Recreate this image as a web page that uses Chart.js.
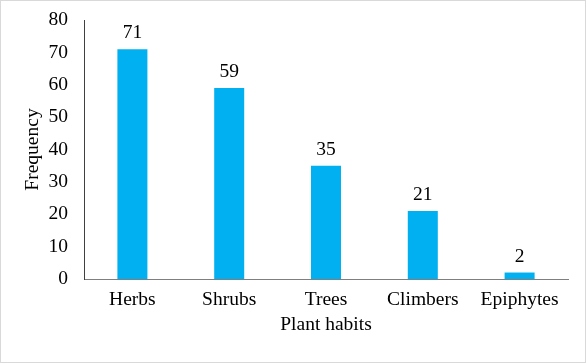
<!DOCTYPE html>
<html><head><meta charset="utf-8">
<script src="https://cdn.jsdelivr.net/npm/chart.js@4/dist/chart.umd.min.js"></script>
<style>html,body{margin:0;padding:0;background:#fff}#wrap{width:587px;height:364px;position:relative}</style>
</head><body><div id="wrap"><canvas id="c" width="587" height="364"></canvas></div>
<script>
const categories = ["Herbs", "Shrubs", "Trees", "Climbers", "Epiphytes"];
const frequency = [71, 59, 35, 21, 2];
const yTicks = [0, 10, 20, 30, 40, 50, 60, 70, 80];

const FONT = "'Liberation Serif', 'Times New Roman', serif";
const FS = 19.5;

const labelPlugin = {
  id: 'vals',
  afterDatasetsDraw(chart) {
    const ctx = chart.ctx;
    const meta = chart.getDatasetMeta(0);
    ctx.save();
    ctx.font = FS + "px " + FONT;
    ctx.fillStyle = "#000";
    ctx.textAlign = "center";
    ctx.textBaseline = "alphabetic";
    meta.data.forEach((bar, i) => {
      ctx.fillText(String(frequency[i]), bar.x, bar.y - 11);
    });
    ctx.restore();
  }
};
const borderPlugin = {
  id: 'frame',
  afterDraw(chart) {
    const ctx = chart.ctx;
    ctx.save();
    ctx.strokeStyle = "#d9d9d9";
    ctx.lineWidth = 1;
    ctx.strokeRect(0.5, 0.5, 585, 362);
    ctx.restore();
  }
};

new Chart(document.getElementById('c'), {
  type: 'bar',
  data: {
    labels: categories,
    datasets: [{
      data: frequency,
      backgroundColor: '#00B0F0',
      barPercentage: 0.62,
      categoryPercentage: 0.5
    }]
  },
  options: {
    responsive: false,
    animation: false,
    devicePixelRatio: 1,
    layout: { padding: { top: 20, right: 19, left: 0, bottom: 0 } },
    plugins: { legend: { display: false }, tooltip: { enabled: false } },
    scales: {
      x: {
        grid: { display: false, drawTicks: false },
        border: { display: true, color: '#7f7f7f', width: 1 },
        ticks: { color: '#000', font: { family: FONT, size: FS }, padding: 9, maxRotation: 0 },
        title: { display: true, text: 'Plant habits', color: '#000', font: { family: FONT, size: FS }, padding: { top: 0, bottom: 27 } },
        afterFit(s) { s.height = 85; s.paddingLeft = 0; s.paddingRight = 0; }
      },
      y: {
        min: 0, max: 80,
        afterBuildTicks(s) { s.ticks = yTicks.map(v => ({ value: v })); },
        grid: { display: false, drawTicks: false },
        border: { display: true, color: '#404040', width: 1 },
        ticks: { color: '#000', font: { family: FONT, size: FS }, padding: 16 },
        title: { display: true, text: 'Frequency', color: '#000', font: { family: FONT, size: FS }, padding: { top: 21, bottom: 0 } },
        afterFit(s) { s.width = 84; s.paddingTop = 0; s.paddingBottom = 0; }
      }
    }
  },
  plugins: [labelPlugin, borderPlugin]
});
</script></body></html>
